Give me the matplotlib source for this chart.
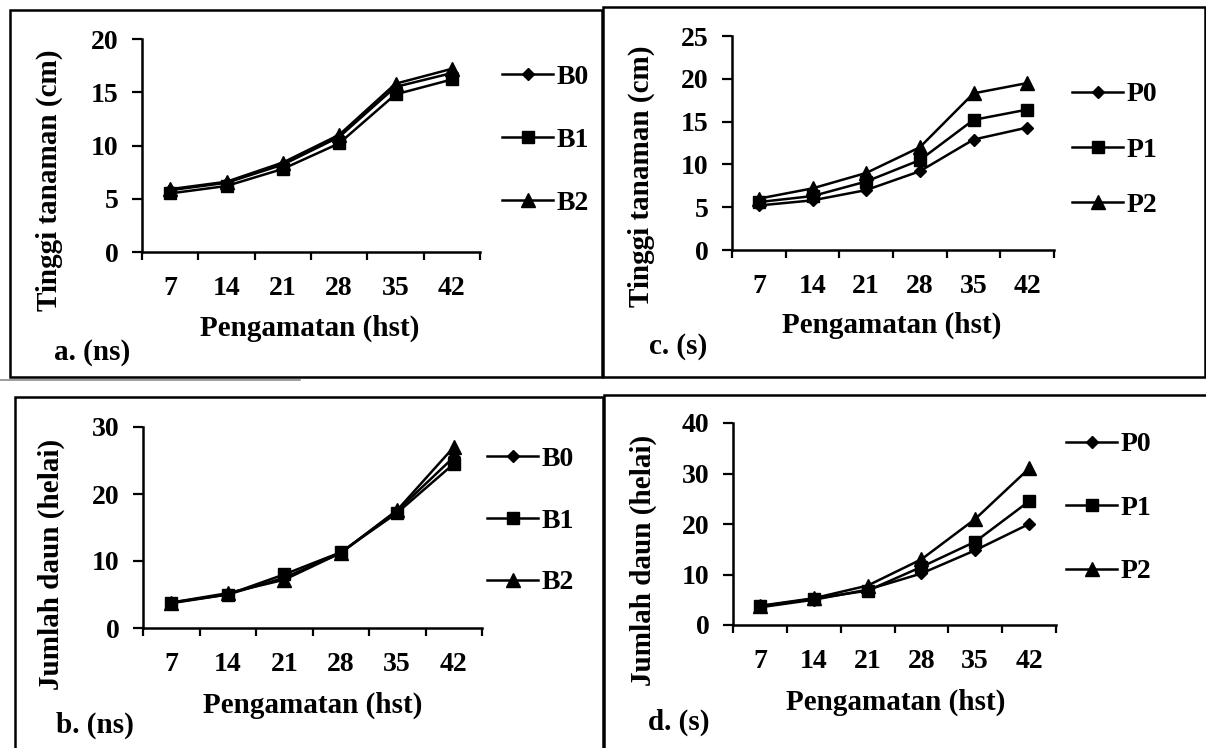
import matplotlib
matplotlib.use("Agg")
import matplotlib.pyplot as plt
from matplotlib.patches import Rectangle
from matplotlib.lines import Line2D

# observation days (hst)
days = ["7", "14", "21", "28", "35", "42"]

# a. plant height, B treatments (ns)
height_b0 = [5.8, 6.5, 8.2, 10.8, 15.5, 16.8]
height_b1 = [5.5, 6.2, 7.8, 10.2, 14.8, 16.2]
height_b2 = [5.9, 6.6, 8.4, 11.0, 15.8, 17.2]

# c. plant height, P treatments (s)
height_p0 = [5.2, 5.8, 7.0, 9.2, 12.9, 14.3]
height_p1 = [5.6, 6.3, 8.0, 10.5, 15.2, 16.4]
height_p2 = [6.0, 7.2, 9.0, 12.0, 18.3, 19.5]

# b. number of leaves, B treatments (ns)
leaves_b0 = [3.8, 5.0, 7.5, 11.2, 17.5, 25.5]
leaves_b1 = [3.7, 5.0, 8.0, 11.3, 17.2, 24.5]
leaves_b2 = [3.8, 5.2, 7.2, 11.2, 17.6, 27.0]

# d. number of leaves, P treatments (s)
leaves_p0 = [3.5, 5.0, 7.0, 10.2, 14.8, 20.0]
leaves_p1 = [3.7, 5.2, 6.8, 11.5, 16.5, 24.5]
leaves_p2 = [3.8, 5.3, 7.8, 13.0, 21.0, 31.0]

W, H = 1206, 748
FS = 20


def fx(px):
    return px / W


def fy(py):
    return 1 - py / H


def panel(fig, box, series, names, ymax, ystep, ylabel, ylab_pos, xlab_pos,
          leg_pos, leg_space, tag, tag_pos):
    left, top, right, bottom = box
    ax = fig.add_axes([fx(left), fy(bottom), fx(right - left), (bottom - top) / H])
    markers = ["D", "s", "^"]
    sizes = [6.5, 8.5, 9.5]
    x = list(range(len(days)))
    handles = []
    for vals, m, ms, name in zip(series, markers, sizes, names):
        ln, = ax.plot(x, vals, color="black", lw=1.8, marker=m, ms=ms,
                      markerfacecolor="black", markeredgecolor="black", label=name)
        handles.append(ln)

    ax.set_xlim(-0.5, len(days) - 0.5)
    ax.set_ylim(0, ymax)
    ax.set_yticks(range(0, ymax + 1, ystep))
    ax.spines["top"].set_visible(False)
    ax.spines["right"].set_visible(False)
    for s in ["left", "bottom"]:
        ax.spines[s].set_linewidth(1.8)

    # category axis: ticks between categories, labels at centres
    ax.set_xticks([i - 0.5 for i in range(len(days) + 1)])
    ax.set_xticklabels([])
    ax.set_xticks(x, minor=True)
    ax.set_xticklabels(days, minor=True)
    ax.tick_params(axis="x", which="major", direction="out", length=6, width=1.6)
    ax.tick_params(axis="x", which="minor", length=0, pad=17, labelsize=FS)
    ax.tick_params(axis="y", direction="out", length=7, width=1.6, pad=10, labelsize=FS)

    ax.set_ylabel(ylabel, fontsize=FS + 1)
    ax.yaxis.set_label_coords(fx(ylab_pos[0]), fy(ylab_pos[1]), transform=fig.transFigure)
    fig.text(fx(xlab_pos[0]), fy(xlab_pos[1]), "Pengamatan (hst)", fontsize=FS + 1,
             ha="center", va="center")
    fig.text(fx(tag_pos[0]), fy(tag_pos[1]), tag, fontsize=FS + 1, ha="left", va="center")

    ax.legend(handles=handles, loc="center left", frameon=False, fontsize=FS,
              bbox_to_anchor=(fx(leg_pos[0]), fy(leg_pos[1])),
              bbox_transform=fig.transFigure, borderaxespad=0, borderpad=0,
              handlelength=1.85, handletextpad=0.1, labelspacing=leg_space)
    return ax


def main():
    plt.rcParams["font.family"] = ["Liberation Serif", "DejaVu Serif"]
    plt.rcParams["font.weight"] = "bold"
    plt.rcParams["axes.labelweight"] = "bold"

    fig = plt.figure(figsize=(W / 100, H / 100), dpi=100)

    panel(fig, (142, 39, 480, 252), [height_b0, height_b1, height_b2], ["B0", "B1", "B2"],
          20, 5, "Tinggi tanaman (cm)", (63, 180), (310, 328), (502, 140), 1.35,
          "a. (ns)", (54, 353))
    panel(fig, (732, 36, 1054, 250), [height_p0, height_p1, height_p2], ["P0", "P1", "P2"],
          25, 5, "Tinggi tanaman (cm)", (655, 176), (892, 325), (1072, 150), 1.08,
          "c. (s)", (649, 347))
    panel(fig, (143, 427, 482, 628), [leaves_b0, leaves_b1, leaves_b2], ["B0", "B1", "B2"],
          30, 10, "Jumlah daun (helai)", (65, 564), (313, 705), (487, 521), 1.3,
          "b. (ns)", (56, 725))
    panel(fig, (733, 423, 1056, 625), [leaves_p0, leaves_p1, leaves_p2], ["P0", "P1", "P2"],
          40, 10, "Jumlah daun (helai)", (657, 560), (896, 702), (1066, 508), 1.37,
          "d. (s)", (648, 722))

    # panel frames
    frames = [(10, 10, 602, 377), (603, 7, 1205, 377), (15, 397, 603, 760), (604, 395, 1210, 760)]
    for x0, y0, x1, y1 in frames:
        fig.add_artist(Rectangle((fx(x0), fy(y1)), fx(x1 - x0), (y1 - y0) / H, fill=False,
                                 edgecolor="black", lw=1.8, transform=fig.transFigure,
                                 clip_on=False))
    fig.add_artist(Line2D([0, fx(300)], [fy(380), fy(380)], color="0.55", lw=1.2,
                          transform=fig.transFigure))

    fig.savefig("out.png", dpi=100)


if __name__ == '__main__':
    main()
